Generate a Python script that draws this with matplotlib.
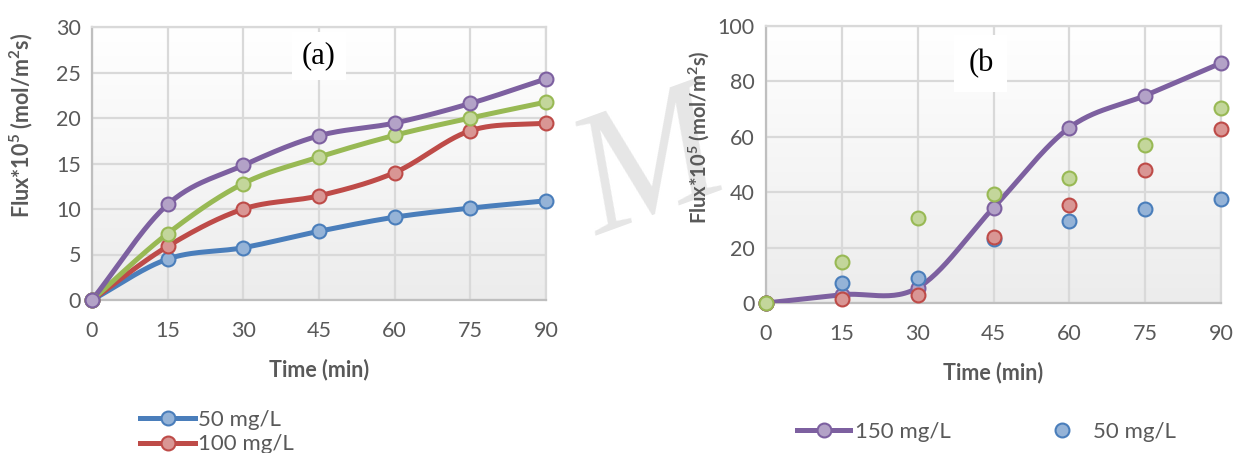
import numpy as np
import matplotlib.pyplot as plt
from matplotlib.lines import Line2D
from matplotlib.colors import LinearSegmentedColormap

plt.rcParams['font.family'] = ['Lato', 'DejaVu Sans']
plt.rcParams['mathtext.fontset'] = 'custom'
plt.rcParams['mathtext.rm'] = 'Lato'
plt.rcParams['mathtext.bf'] = 'Lato:bold'

time = [0, 15, 30, 45, 60, 75, 90]

# (a) flux series
flux_a_50 = [0, 4.5, 5.75, 7.55, 9.1, 10.1, 10.9]
flux_a_100 = [0, 5.9, 10.0, 11.45, 14.0, 18.6, 19.45]
flux_a_150 = [0, 7.3, 12.8, 15.7, 18.1, 20.0, 21.75]
flux_a_200 = [0, 10.5, 14.8, 18.05, 19.45, 21.6, 24.3]

# (b) flux series
flux_b_150 = [0, 3.0, 5.5, 34.4, 63.3, 74.9, 86.6]
flux_b_50 = [0, 7.1, 9.2, 23.0, 29.6, 34.1, 37.6]
flux_b_100 = [0, 1.4, 3.0, 24.0, 35.4, 48.0, 62.8]
flux_b_200 = [0, 14.9, 30.6, 39.2, 45.2, 57.0, 70.5]

line_col = {'blue': '#4a7ebb', 'red': '#be4b48', 'green': '#98b954', 'purple': '#7d60a0'}
face_col = {'blue': '#95b3d7', 'red': '#d99694', 'green': '#c3d69b', 'purple': '#b3a2c7'}
tick_col = '#595959'
ylab = 'Flux*10$^{\\mathbf{5}}$ (mol/m$^{\\mathbf{2}}$s)'


def smooth(x, y, n=30):
    # Catmull-Rom curve through the points (like Excel's smoothed line)
    x = np.asarray(x, float)
    y = np.asarray(y, float)
    px = np.concatenate([[2 * x[0] - x[1]], x, [2 * x[-1] - x[-2]]])
    py = np.concatenate([[2 * y[0] - y[1]], y, [2 * y[-1] - y[-2]]])
    t = np.linspace(0, 1, n)[:, None]
    xs, ys = [], []
    for i in range(1, len(px) - 2):
        for p, out in ((px, xs), (py, ys)):
            p0, p1, p2, p3 = p[i - 1], p[i], p[i + 1], p[i + 2]
            seg = 0.5 * ((2 * p1) + (-p0 + p2) * t + (2 * p0 - 5 * p1 + 4 * p2 - p3) * t ** 2
                         + (-p0 + 3 * p1 - 3 * p2 + p3) * t ** 3)
            out.append(seg.ravel())
    return np.concatenate(xs), np.concatenate(ys)


def style_axes(ax, ymax, ystep):
    ax.set_xlim(0, 90)
    ax.set_ylim(0, ymax)
    ax.set_xticks(time)
    ax.set_yticks(np.arange(0, ymax + 1, ystep))
    grad = np.linspace(0, 1, 256)[:, None]
    ax.imshow(grad, extent=[0, 90, 0, ymax], aspect='auto', origin='lower',
              cmap=LinearSegmentedColormap.from_list('g', ['#ececec', '#ffffff']), zorder=0)
    ax.grid(True, color='#d9d9d9', linewidth=1.6, zorder=1)
    ax.set_axisbelow(True)
    for s in ax.spines.values():
        s.set_color('#d9d9d9')
        s.set_linewidth(1.6)
    ax.spines['left'].set_color('#bfbfbf')
    ax.spines['bottom'].set_color('#bfbfbf')
    ax.tick_params(length=0, labelsize=15.5, labelcolor=tick_col)
    ax.tick_params(axis='x', pad=15)
    ax.tick_params(axis='y', pad=8)
    ax.set_xlabel('Time (min)', fontsize=15.5, fontweight='bold', color=tick_col, labelpad=13)


fig = plt.figure(figsize=(12.4, 4.53), dpi=100)

# faint watermark letter
fig.text(0.525, 0.62, 'M', fontsize=125, family='Liberation Serif', style='italic',
         color='#e6e6e6', rotation=20, ha='center', va='center', zorder=-1)

# ---- (a) ----
ax1 = fig.add_axes([92 / 1240, 153 / 453, 454 / 1240, 273 / 453])
style_axes(ax1, 30, 5)
ax1.set_ylabel(ylab, fontsize=15.5, fontweight='bold', color=tick_col)
ax1.yaxis.set_label_coords(-0.125, 0.64)
for vals, c in [(flux_a_50, 'blue'), (flux_a_100, 'red'), (flux_a_150, 'green'), (flux_a_200, 'purple')]:
    sx, sy = smooth(time, vals)
    ax1.plot(sx, sy, color=line_col[c], lw=3.6, zorder=3, solid_capstyle='round')
    ax1.plot(time, vals, 'o', ms=10, mfc=face_col[c], mec=line_col[c], mew=1.5, zorder=4, clip_on=False)
ax1.text(45, 26.8, '(a)', fontsize=22, family='Liberation Serif', ha='center', va='center',
         bbox=dict(facecolor='white', edgecolor='none', pad=7), zorder=5)

handles_a = [Line2D([], [], color=line_col[c], lw=3.6, marker='o', ms=10, mfc=face_col[c],
                    mec=line_col[c], mew=1.5)
             for c in ['blue', 'red']]
fig.legend(handles_a, ['50 mg/L', '100 mg/L'], loc='upper left',
           bbox_to_anchor=(131 / 1240, 1 - 401 / 453), frameon=False, fontsize=16,
           labelcolor=tick_col, handlelength=2.5, handletextpad=0.1, labelspacing=0.2,
           borderaxespad=0)

# ---- (b) ----
ax2 = fig.add_axes([766 / 1240, 150 / 453, 455 / 1240, 277 / 453])
style_axes(ax2, 100, 20)
ax2.set_ylabel(ylab, fontsize=14.5, fontweight='bold', color=tick_col)
ax2.yaxis.set_label_coords(-0.12, 0.6)
sx, sy = smooth(time, flux_b_150)
ax2.plot(sx, sy, color=line_col['purple'], lw=3.6, zorder=3)
ax2.plot(time, flux_b_150, 'o', ms=10, mfc=face_col['purple'], mec=line_col['purple'], mew=1.5,
         zorder=4, clip_on=False)
for vals, c in [(flux_b_50, 'blue'), (flux_b_100, 'red'), (flux_b_200, 'green')]:
    ax2.plot(time, vals, 'o', ms=10, mfc=face_col[c], mec=line_col[c], mew=1.5, zorder=5, clip_on=False)
ax2.text(42.5, 86.5, '(b', fontsize=22, family='Liberation Serif', ha='center', va='center',
         bbox=dict(facecolor='white', edgecolor='none', pad=10), zorder=6)

handles_b = [Line2D([], [], color=line_col['purple'], lw=3.6, marker='o', ms=10,
                    mfc=face_col['purple'], mec=line_col['purple'], mew=1.5),
             Line2D([], [], ls='none', marker='o', ms=10, mfc=face_col['blue'],
                    mec=line_col['blue'], mew=1.5)]
fig.legend(handles_b, ['150 mg/L', '50 mg/L'], loc='upper left',
           bbox_to_anchor=(788 / 1240, 1 - 413 / 453), frameon=False, fontsize=16, ncol=2,
           labelcolor=tick_col, handlelength=2.4, handletextpad=0.2, columnspacing=3.8,
           borderaxespad=0)

fig.savefig('out.png', dpi=100)
